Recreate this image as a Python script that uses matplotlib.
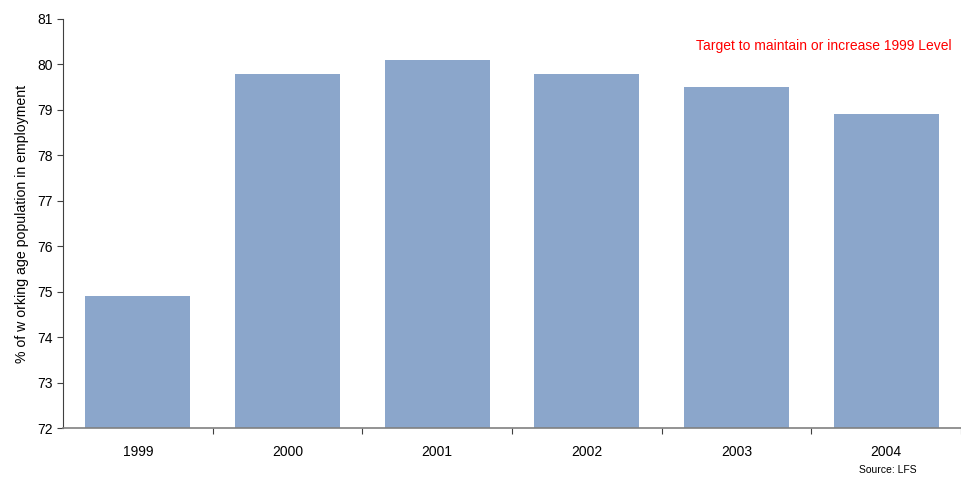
import numpy as np
import matplotlib.pyplot as plt

plt.rcParams['font.family'] = ['Liberation Sans', 'DejaVu Sans']

years = ['1999', '2000', '2001', '2002', '2003', '2004']
employment_rate = [74.9, 79.8, 80.1, 79.8, 79.5, 78.9]

fig = plt.figure(figsize=(9.61, 4.78), dpi=100)
ax = fig.add_axes([63 / 961, 50 / 478, 898 / 961, 409 / 478])

x = np.arange(len(years))
ax.bar(x, employment_rate, width=0.7, color='#8BA6CB')

ax.set_ylim(72, 81)
ax.set_yticks(np.arange(72, 82, 1))
ax.set_xlim(-0.5, len(years) - 0.5)

# category labels centred, tick marks on the boundaries between bars
ax.set_xticks(x + 0.5, minor=False)
ax.set_xticklabels([])
ax.set_xticks(x, minor=True)
ax.set_xticklabels(years, minor=True)
ax.tick_params(axis='x', which='minor', length=0, pad=12, labelsize=10)
ax.tick_params(axis='x', which='major', length=4, color='#404040')
ax.tick_params(axis='y', length=4, labelsize=10, color='#404040')

for side in ['top', 'right']:
    ax.spines[side].set_visible(False)
ax.spines['left'].set_color('#404040')
ax.spines['bottom'].set_color('#808080')
ax.spines['bottom'].set_linewidth(1.2)

ax.set_ylabel('% of w orking age population in employment', fontsize=10.2, labelpad=6)

ax.text(0.99, 0.934, 'Target to maintain or increase 1999 Level', color='#FF0000',
        fontsize=10, ha='right', va='center', transform=ax.transAxes)
fig.text(888 / 961, 8 / 478, 'Source: LFS', fontsize=7.5, ha='center', va='center')

fig.savefig('out.png', dpi=100)
